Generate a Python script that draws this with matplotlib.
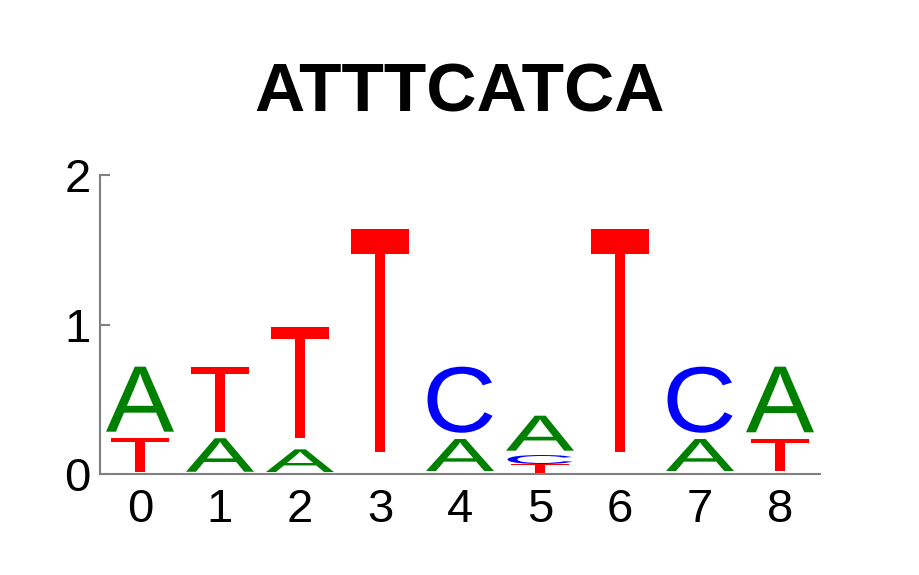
import matplotlib
matplotlib.use("Agg")
import matplotlib.pyplot as plt
from matplotlib.textpath import TextPath
from matplotlib.font_manager import FontProperties
from matplotlib.patches import PathPatch
from matplotlib.transforms import Affine2D

# ---- data ----
title_text = "ATTTCATCA"
positions = [0, 1, 2, 3, 4, 5, 6, 7, 8]
tick_labels = ["0", "1", "2", "3", "4", "5", "6", "7", "8"]
y_ticks = [0, 1, 2]

glyph_pos = [0, 0, 1, 1, 2, 2, 3, 4, 4, 5, 5, 5, 6, 7, 7, 8, 8]
glyph_char = ['T', 'A', 'A', 'T', 'A', 'T', 'T', 'A', 'C', 'T', 'C', 'A', 'T', 'A', 'C', 'T', 'A']
glyph_lo = [0.015, 0.283, 0.015, 0.283, 0.013, 0.239, 0.147, 0.020, 0.276,
            0.005, 0.067, 0.156, 0.147, 0.020, 0.276, 0.020, 0.279]
glyph_hi = [0.241, 0.718, 0.239, 0.718, 0.165, 0.985, 1.639, 0.234, 0.718,
            0.065, 0.127, 0.390, 1.639, 0.234, 0.718, 0.234, 0.718]

colors = {'A': '#008000', 'C': '#0000ff', 'G': '#ffa500', 'T': '#ff0000'}

# ---- figure ----
fig = plt.figure(figsize=(9.2, 5.75), dpi=100)
ax = fig.add_axes([100 / 920, 1 - 474 / 575, 720 / 920, 299 / 575])
ax.set_xlim(-0.5, 8.5)
ax.set_ylim(0, 2)

glyph_font = FontProperties(family="Liberation Sans")
ref_ext = TextPath((0, 0), "A", size=1, prop=glyph_font).get_extents()
sx = 0.85 / ref_ext.width

for p, ch, lo, hi in zip(glyph_pos, glyph_char, glyph_lo, glyph_hi):
    tp = TextPath((0, 0), ch, size=1, prop=glyph_font)
    ext = tp.get_extents()
    sy = (hi - lo) / ext.height
    w = ext.width * sx
    tr = (Affine2D().translate(-ext.x0, -ext.y0).scale(sx, sy)
          .translate(p - w / 2, lo))
    path = tr.transform_path(tp)
    ax.add_patch(PathPatch(path, facecolor=colors[ch], edgecolor='none', lw=0))

for s in ['top', 'right']:
    ax.spines[s].set_visible(False)
for s in ['left', 'bottom']:
    ax.spines[s].set_color('#808080')
    ax.spines[s].set_linewidth(1.5)

tick_font = "Liberation Sans"
ax.set_xticks(positions)
ax.set_xticklabels(tick_labels, fontsize=34, family=tick_font)
ax.set_yticks(y_ticks)
ax.set_yticklabels([str(v) for v in y_ticks], fontsize=34, family=tick_font)
ax.tick_params(axis='x', length=0, pad=10)
ax.tick_params(axis='y', direction='in', length=7, width=1.5, color='#808080', pad=6.5)

fig.text(0.5, 1 - 112 / 575, title_text, ha='center', va='baseline',
         fontsize=50, fontweight='bold',
         family=['Liberation Sans', 'DejaVu Sans'])

fig.savefig("out.png", dpi=100)
